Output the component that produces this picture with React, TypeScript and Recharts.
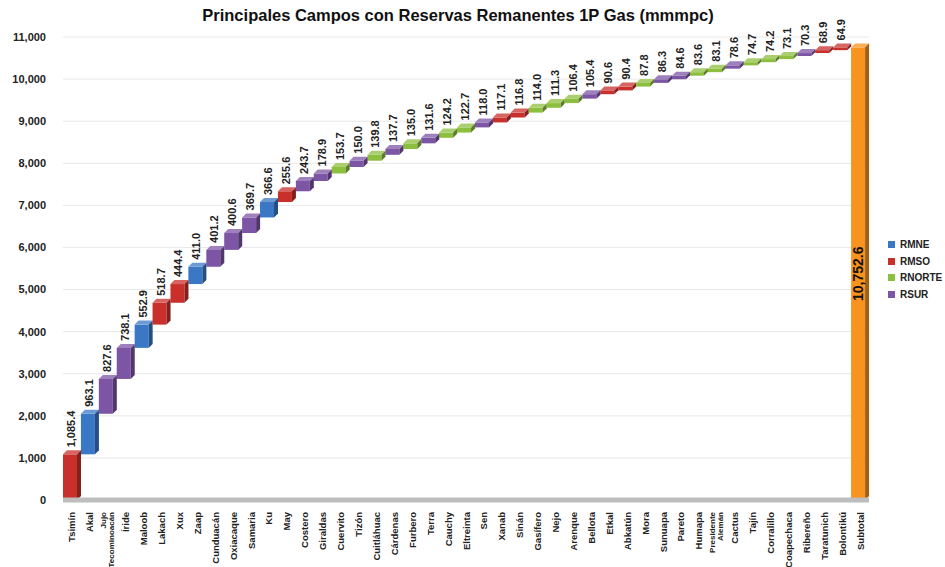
import { Bar, BarChart, CartesianGrid, LabelList, Legend, ReferenceLine, XAxis, YAxis } from "recharts";

const categories = [
  "Tsimín", "Akal", "Jujo\nTecominoacán", "Íride", "Maloob", "Lakach", "Xux", "Zaap", "Cunduacán", "Oxiacaque",
  "Samaria", "Ku", "May", "Costero", "Giraldas", "Cuervito", "Tizón", "Cuitláhuac", "Cárdenas", "Furbero",
  "Terra", "Cauchy", "Eltreinta", "Sen", "Xanab", "Sinán", "Gasífero", "Nejo", "Arenque", "Bellota",
  "Etkal", "Abkatún", "Mora", "Sunuapa", "Pareto", "Humapa", "Presidente\nAlemán", "Cactus", "Tajín", "Corralillo",
  "Coapechaca", "Ribereño", "Taratunich", "Bolontikú", "Subtotal"
];

const values = [
  1085.4, 963.1, 827.6, 738.1, 552.9, 518.7, 444.4, 411.0, 401.2, 400.6,
  369.7, 366.6, 255.6, 243.7, 178.9, 153.7, 150.0, 139.8, 137.7, 135.0,
  131.6, 124.2, 122.7, 118.0, 117.1, 116.8, 114.0, 111.3, 106.4, 105.4,
  90.6, 90.4, 87.8, 86.3, 84.6, 83.6, 83.1, 78.6, 74.7, 74.2,
  73.1, 70.3, 68.9, 64.9, 10752.6
];

const regions = [
  "RMSO", "RMNE", "RSUR", "RSUR", "RMNE", "RMSO", "RMSO", "RMNE", "RSUR", "RSUR",
  "RSUR", "RMNE", "RMSO", "RSUR", "RSUR", "RNORTE", "RSUR", "RNORTE", "RSUR", "RNORTE",
  "RSUR", "RNORTE", "RNORTE", "RSUR", "RMSO", "RMSO", "RNORTE", "RNORTE", "RNORTE", "RSUR",
  "RMSO", "RMSO", "RNORTE", "RSUR", "RSUR", "RNORTE", "RNORTE", "RSUR", "RNORTE", "RNORTE",
  "RNORTE", "RSUR", "RMSO", "RMSO", "Subtotal"
];

const seriesNames = ["RMNE", "RMSO", "RNORTE", "RSUR"];
const yTicks = [0, 1000, 2000, 3000, 4000, 5000, 6000, 7000, 8000, 9000, 10000, 11000];

const colors: Record<string, string> = {
  RMNE: "#3a78c6",
  RMSO: "#c9302c",
  RNORTE: "#8dbf3f",
  RSUR: "#7d55a5",
  Subtotal: "#f7931e"
};

let running = 0;
const rows = categories.map((name, i) => {
  const region = regions[i];
  const isTotal = region === "Subtotal";
  const row: Record<string, any> = { name, base: isTotal ? 0 : running };
  if (!isTotal) running += values[i];
  for (const s of [...seriesNames, "Subtotal"]) row[s] = s === region ? values[i] : null;
  return row;
});

const fmt = (v: number) => v.toLocaleString("en-US", { minimumFractionDigits: 1, maximumFractionDigits: 1 });
const D = 4;
const FONT = "Liberation Sans, Arial, sans-serif";

function shade(hex: string, k: number) {
  const n = parseInt(hex.slice(1), 16);
  const f = (c: number) => Math.max(0, Math.min(255, Math.round(k > 0 ? c + (255 - c) * k : c * (1 + k))));
  const r = f((n >> 16) & 255), g = f((n >> 8) & 255), b = f(n & 255);
  return `rgb(${r},${g},${b})`;
}

function Bar3D(props: any) {
  const { x, y, width, height, fill } = props;
  if (!height || height <= 0) return null;
  const w = width;
  return (
    <g>
      <rect x={x} y={y} width={w - D} height={height} fill={fill} />
      <polygon points={`${x},${y} ${x + D},${y - D} ${x + w},${y - D} ${x + w - D},${y}`} fill={shade(fill, 0.25)} />
      <polygon points={`${x + w - D},${y} ${x + w},${y - D} ${x + w},${y + height - D} ${x + w - D},${y + height}`} fill={shade(fill, -0.35)} />
    </g>
  );
}

function makeShape(color: string) {
  return (props: any) => <Bar3D {...props} fill={color} />;
}

function ValueLabel(props: any) {
  const { x, y, width, value } = props;
  if (value == null) return null;
  const cx = x + (width - D) / 2 + 1;
  const ty = y - D - 3;
  return (
    <text x={cx} y={ty} transform={`rotate(-90 ${cx} ${ty})`} textAnchor="start" dominantBaseline="central"
      fontSize={11} fontWeight="bold" fill="#222" fontFamily={FONT}>
      {fmt(value)}
    </text>
  );
}

function TotalLabel(props: any) {
  const { x, y, width, height, value } = props;
  if (value == null) return null;
  const cx = x + (width - D) / 2;
  const cy = y + height / 2;
  return (
    <text x={cx} y={cy} transform={`rotate(-90 ${cx} ${cy})`} textAnchor="middle" dominantBaseline="central"
      fontSize={14} fontWeight="bold" fill="#111" fontFamily={FONT}>
      {fmt(value)}
    </text>
  );
}

function CategoryTick(props: any) {
  const { x, y, payload } = props;
  const lines = String(payload.value).split("\n");
  const ty = y + 4;
  return (
    <g transform={`translate(${x},${ty}) rotate(-90)`}>
      {lines.map((line, i) => (
        <text key={i} x={0} y={0} dy={(i - (lines.length - 1) / 2) * 8} textAnchor="end" dominantBaseline="central"
          fontSize={lines.length > 1 ? 8 : 9.5} fontWeight="bold" fill="#222" fontFamily={FONT}>
          {line}
        </text>
      ))}
    </g>
  );
}

function LegendBox() {
  return (
    <div style={{ paddingLeft: 19, fontFamily: FONT, fontSize: 10, fontWeight: "bold", color: "#222" }}>
      {seriesNames.map((s) => (
        <div key={s} style={{ display: "flex", alignItems: "center", height: 16.7, whiteSpace: "nowrap" }}>
          <span style={{ flex: "0 0 7px", width: 7, height: 7, background: colors[s], marginRight: 5 }} />
          <span>{s}</span>
        </div>
      ))}
    </div>
  );
}

export default function App() {
  return (
    <div style={{ position: "absolute", left: 0, top: 0, width: 945, height: 567, background: "#fff" }}>
      <div style={{ position: "absolute", left: 0, top: 6, width: 916, textAlign: "center", fontFamily: FONT, fontSize: 16.5, fontWeight: "bold", color: "#111" }}>
        Principales Campos con Reservas Remanentes 1P Gas (mmmpc)
      </div>
      <BarChart width={945} height={567} data={rows} margin={{ top: 37, right: 16, bottom: 7, left: 0 }} barCategoryGap="0%">
        <CartesianGrid vertical={false} stroke="#e8e8e8" />
        <XAxis dataKey="name" interval={0} height={60} tick={<CategoryTick />} tickLine={false} axisLine={false} />
        <YAxis width={63} domain={[0, 11000]} ticks={yTicks} tickFormatter={(v) => v.toLocaleString("en-US")}
          tickSize={0} tickMargin={17} axisLine={false}
          tick={{ fontSize: 11, fontWeight: "bold", fill: "#222", fontFamily: FONT }} />
        <ReferenceLine y={0} stroke="#bdbdbd" strokeWidth={5} />
        <Legend layout="vertical" align="right" verticalAlign="middle" content={<LegendBox />}
          wrapperStyle={{ width: 60, top: 236 }} />
        <Bar dataKey="base" stackId="w" fill="transparent" legendType="none" isAnimationActive={false} />
        {seriesNames.map((s) => (
          <Bar key={s} dataKey={s} stackId="w" fill={colors[s]} shape={makeShape(colors[s])} isAnimationActive={false}>
            <LabelList dataKey={s} content={<ValueLabel />} />
          </Bar>
        ))}
        <Bar dataKey="Subtotal" stackId="w" fill={colors.Subtotal} shape={makeShape(colors.Subtotal)} legendType="none" isAnimationActive={false}>
          <LabelList dataKey="Subtotal" content={<TotalLabel />} />
        </Bar>
      </BarChart>
    </div>
  );
}
